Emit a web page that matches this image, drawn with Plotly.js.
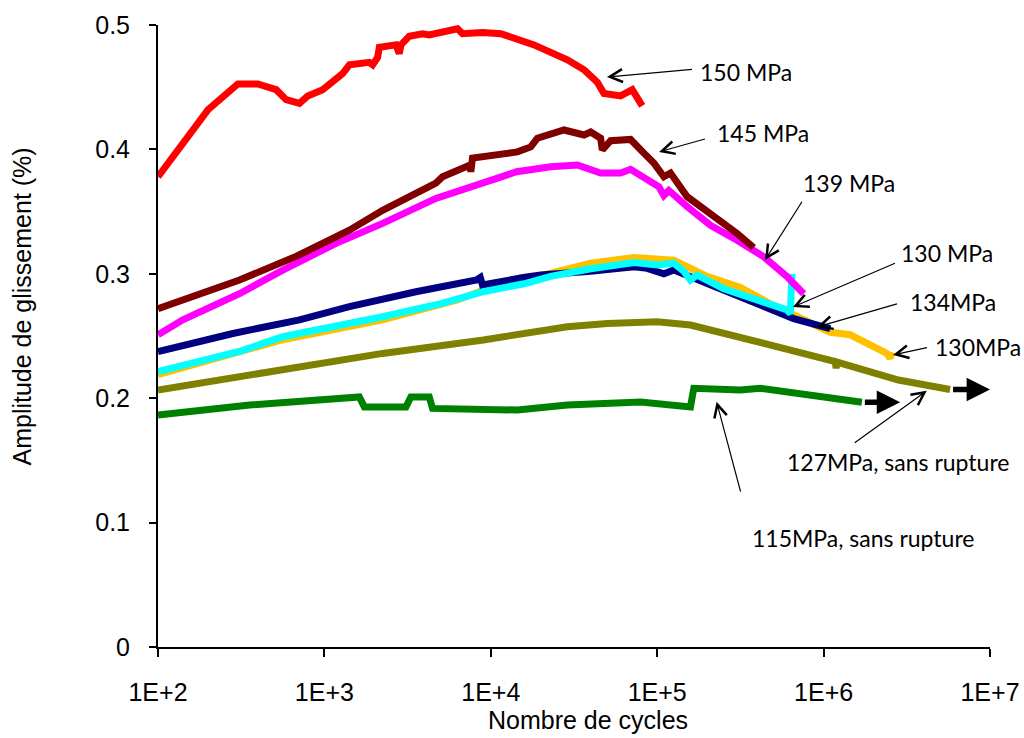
<!DOCTYPE html>
<html>
<head>
<meta charset="utf-8">
<script src="https://cdn.plot.ly/plotly-3.0.1.min.js"></script>
<style>html,body{margin:0;padding:0;background:#fff;}#chart{width:1024px;height:738px;}</style>
</head>
<body>
<div id="chart"></div>
<script>
// ---- Data (cycles, slip amplitude %) ----
const red150N = [100, 200, 302, 398, 513, 589, 708, 794, 977, 1288, 1413, 1698, 1862, 1950, 2089, 2138, 2692, 2818, 2884, 3236, 3890, 4266, 6310, 6761, 8913, 11482, 14454, 18197, 22909, 28840, 36308, 43652, 47863, 60256, 70795, 81283];
const red150V = [0.378, 0.432, 0.4526, 0.4526, 0.448, 0.440, 0.437, 0.443, 0.448, 0.461, 0.468, 0.469, 0.470, 0.468, 0.474, 0.482, 0.484, 0.477, 0.484, 0.491, 0.493, 0.492, 0.497, 0.493, 0.494, 0.493, 0.489, 0.484, 0.478, 0.472, 0.464, 0.454, 0.445, 0.443, 0.448, 0.435];

const brown145N = [100, 309, 676, 1413, 2239, 3548, 4677, 5129, 7499, 7586, 7762, 14454, 17378, 19055, 27542, 36308, 39811, 45709, 46774, 52481, 69183, 83176, 95499, 109648, 120226, 151356, 181970, 239883, 301995, 380189];
const brown145V = [0.272, 0.295, 0.314, 0.335, 0.351, 0.365, 0.373, 0.378, 0.3875, 0.382, 0.393, 0.398, 0.402, 0.409, 0.4156, 0.4116, 0.414, 0.409, 0.3995, 0.407, 0.408, 0.397, 0.389, 0.378, 0.381, 0.362, 0.354, 0.343, 0.3325, 0.321];

const mag139N = [100, 141, 309, 562, 1175, 2239, 4677, 9016, 14289, 22909, 33113, 45709, 60256, 69183, 91201, 102329, 109648, 117490, 151356, 208930, 301995, 436516, 602560, 758578];
const mag139V = [0.251, 0.263, 0.284, 0.303, 0.3245, 0.3405, 0.3606, 0.374, 0.382, 0.386, 0.3875, 0.381, 0.381, 0.384, 0.374, 0.370, 0.363, 0.367, 0.354, 0.339, 0.327, 0.3137, 0.2977, 0.284];

const navy134N = [100, 282, 708, 1413, 3548, 8222, 8650, 8913, 15668, 19953, 39811, 72444, 87096, 109648, 125893, 199526, 316228, 501187, 660693, 1096478];
const navy134V = [0.2374, 0.252, 0.263, 0.2736, 0.2856, 0.295, 0.297, 0.291, 0.297, 0.299, 0.302, 0.3057, 0.3044, 0.300, 0.303, 0.292, 0.2816, 0.2709, 0.264, 0.256];

const cyan130N = [100, 316, 562, 1000, 2239, 5012, 9016, 15849, 22909, 39811, 72444, 100000, 125893, 144544, 158489, 173780, 251189, 398107, 602560, 630957, 645654];
const cyan130V = [0.2213, 0.238, 0.2494, 0.256, 0.2655, 0.276, 0.2856, 0.292, 0.298, 0.304, 0.309, 0.307, 0.3084, 0.302, 0.295, 0.299, 0.288, 0.279, 0.271, 0.268, 0.300];

const gold130N = [100, 562, 2239, 6310, 9016, 15849, 22909, 39811, 72444, 100000, 125893, 199526, 316228, 501187, 794328, 1096478, 1445440, 2089296, 2398833, 2511886, 2570396];
const gold130V = [0.219, 0.247, 0.263, 0.279, 0.287, 0.295, 0.301, 0.3085, 0.313, 0.312, 0.311, 0.298, 0.289, 0.2745, 0.262, 0.253, 0.251, 0.240, 0.236, 0.232, 0.237];

const olive127N = [100, 562, 2239, 9016, 28840, 50119, 100000, 158489, 316228, 630957, 1174898, 1190000, 1202264, 2818383, 5754399];
const olive127V = [0.2066, 0.2227, 0.236, 0.2468, 0.2575, 0.260, 0.2615, 0.2588, 0.2494, 0.2387, 0.2295, 0.224, 0.229, 0.2146, 0.207];

const green115N = [100, 355, 1622, 1738, 3090, 3311, 4266, 4467, 14454, 28840, 79433, 158489, 165959, 316228, 416869, 794328, 1698244];
const green115V = [0.1865, 0.1945, 0.201, 0.193, 0.193, 0.201, 0.201, 0.1918, 0.1905, 0.1945, 0.197, 0.193, 0.208, 0.2066, 0.208, 0.2026, 0.1967];

const xTickVals = [1e2, 1e3, 1e4, 1e5, 1e6, 1e7];
const xTickText = ['1E+2', '1E+3', '1E+4', '1E+5', '1E+6', '1E+7'];
const xTitle = 'Nombre de cycles';
const yTitle = 'Amplitude de glissement (%)';
const labels = ['150 MPa', '145 MPa', '139 MPa', '130 MPa', '134MPa', '130MPa', '127MPa, sans rupture', '115MPa, sans rupture'];

// ---- Traces ----
const W = 7;
function tr(x, y, color) {
  return {x: x, y: y, type: 'scatter', mode: 'lines', line: {color: color, width: W, shape: 'linear'}, hoverinfo: 'skip'};
}
const data = [
  tr(green115N, green115V, '#008000'),
  tr(olive127N, olive127V, '#808000'),
  tr(gold130N, gold130V, '#FFC000'),
  tr(navy134N, navy134V, '#000080'),
  tr(cyan130N, cyan130V, '#00FFFF'),
  tr(mag139N, mag139V, '#FF00FF'),
  tr(brown145N, brown145V, '#800000'),
  tr(red150N, red150V, '#FF0000')
];

// ---- Annotations ----
const L = Math.log10;
function thinArrow(hx, hy, tx, ty) {
  return {x: hx, y: hy, ax: tx, ay: ty, xref: 'x', yref: 'y', axref: 'x', ayref: 'y',
    text: ' ', showarrow: true, arrowhead: 5, arrowsize: 2.1, arrowwidth: 1.2, arrowcolor: '#000'};
}
function label(txt, x, y) {
  return {x: x, y: y, xref: 'x', yref: 'y', text: txt, showarrow: false, xanchor: 'left', yanchor: 'middle',
    font: {family: 'Lato, "Noto Sans", sans-serif', size: 23, color: '#000'}};
}
function thickArrow(x0, x1, y) {
  return {x: x1, y: y, ax: x0, ay: y, xref: 'x', yref: 'y', axref: 'x', ayref: 'y',
    text: ' ', showarrow: true, arrowhead: 2, arrowsize: 0.85, arrowwidth: 5.5, arrowcolor: '#000'};
}
const titleFont = {family: 'Arial, "Liberation Sans", sans-serif', size: 25, color: '#000'};
const annotations = [
  thinArrow(4.698, 0.4582, 5.227, 0.4646), label(labels[0], 5.245, 0.462),
  thinArrow(5.011, 0.398, 5.305, 0.409), label(labels[1], 5.345, 0.413),
  thinArrow(5.648, 0.311, 5.888, 0.3617), label(labels[2], 5.865, 0.373),
  thinArrow(5.816, 0.2733, 6.447, 0.3095), label(labels[3], 6.452, 0.3167),
  thinArrow(5.96, 0.2572, 6.459, 0.2765), label(labels[4], 6.51, 0.2772),
  thinArrow(6.417, 0.2347, 6.639, 0.2412), label(labels[5], 6.66, 0.2408),
  thinArrow(6.62, 0.206, 6.169, 0.1624), label(labels[6], 5.77, 0.1487),
  thinArrow(5.357, 0.1972, 5.517, 0.1168), label(labels[7], 5.555, 0.0876),
  thickArrow(L(green115N[green115N.length - 1]), 6.46, 0.1967),
  thickArrow(L(olive127N[olive127N.length - 1]), 7.0, 0.207),
  {text: xTitle, xref: 'paper', yref: 'paper', x: 0.5165, y: -0.118, xanchor: 'center', yanchor: 'middle', showarrow: false, font: titleFont},
  {text: yTitle, xref: 'paper', yref: 'paper', x: -0.163, y: 0.548, xanchor: 'center', yanchor: 'middle', textangle: -90, showarrow: false, font: titleFont}
];

const axisFont = {family: 'Arial, "Liberation Sans", sans-serif', size: 25, color: '#000'};
const layout = {
  width: 1024, height: 738,
  margin: {l: 158, r: 34, t: 25, b: 91, pad: 0},
  paper_bgcolor: '#fff', plot_bgcolor: '#fff',
  showlegend: false,
  xaxis: {
    type: 'log', range: [2, 7], tickvals: xTickVals, ticktext: xTickText,
    showgrid: false, zeroline: false, showline: true, linecolor: '#000', linewidth: 2,
    ticks: 'outside', ticklen: 8, tickwidth: 2, tickcolor: '#000',
    tickfont: axisFont, ticklabelstandoff: 14
  },
  yaxis: {
    range: [0, 0.5], dtick: 0.1, tick0: 0,
    showgrid: false, zeroline: false, showline: true, linecolor: '#000', linewidth: 2,
    ticks: 'outside', ticklen: 7, tickwidth: 2, tickcolor: '#000',
    tickfont: axisFont, ticklabelstandoff: 14
  },
  annotations: annotations
};

Plotly.newPlot('chart', data, layout, {staticPlot: true, displayModeBar: false});
</script>
</body>
</html>
